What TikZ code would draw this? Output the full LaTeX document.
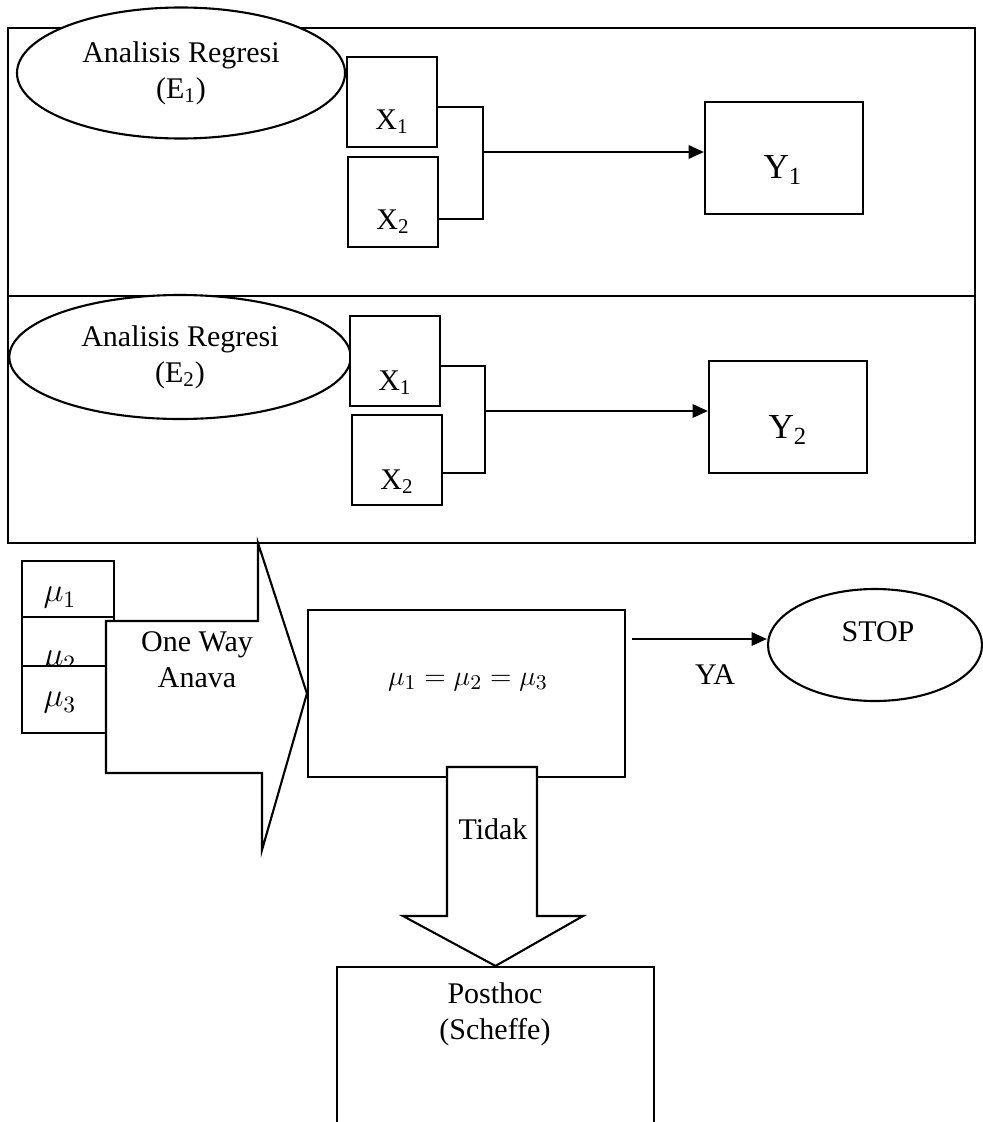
\documentclass[tikz,border=0pt]{standalone}
\usepackage{fontspec}
\setmainfont{Liberation Serif}
\usetikzlibrary{arrows.meta,shapes.geometric}
\tikzset{
  box/.style={draw, line width=0.9pt, fill=white, inner sep=0pt},
  oval/.style={draw, ellipse, line width=0.9pt, fill=white, inner sep=0pt, align=center},
  txt/.style={align=center, inner sep=1pt},
  link/.style={line width=0.9pt},
  arr/.style={line width=0.9pt, -{Triangle[length=2.3mm,width=2mm]}},
  fat/.style={draw, line width=0.9pt, fill=white},
}
\begin{document}
\begin{tikzpicture}[x=0.15mm, y=-0.15mm, font=\fontsize{12.8}{15.3}\selectfont]
  \useasboundingbox (0,0) rectangle (983,1122);
  \clip (0,0) rectangle (983,1122);
  % frame with the two regressions
  \draw[link] (8,28) rectangle (975,543);
  \draw[link] (8,296) -- (975,296);
  \node[oval, minimum width=49.2mm, minimum height=19.65mm] (e1) at (181,73) {Analisis Regresi\\(E\textsubscript{1})};
  \node[oval, minimum width=51.2mm, minimum height=18.6mm] (e2) at (180,357) {Analisis Regresi\\(E\textsubscript{2})};
  \foreach \n/\i/\x/\y/\ty in {x1a/1/392/102/122, x2a/2/393/202/222,
                               x1b/1/395/361/383, x2b/2/397/460/482} {
    \node[box, minimum width=13.6mm, minimum height=13.4mm] (\n) at (\x,\y) {};
    \node[txt] (\n-t) at (\x,\ty) {X\textsubscript{\i}};
  }
  \coordinate (j1) at (483,152);
  \coordinate (j2) at (485,411);
  \draw[link] ([yshift=-0.75mm]x1a.east) -| (j1) |- ([yshift=-2.55mm]x2a.east);
  \draw[link] ([yshift=-0.75mm]x1b.east) -| (j2) |- ([yshift=-1.95mm]x2b.east);
  \node[box, minimum width=23.7mm, minimum height=16.8mm] (y1) at (784,158) {};
  \node[txt, font=\fontsize{15}{18}\selectfont] (y1-t) at (783,170) {Y\textsubscript{1}};
  \node[box, minimum width=23.7mm, minimum height=16.8mm] (y2) at (788,417) {};
  \node[txt, font=\fontsize{15}{18}\selectfont] (y2-t) at (788,430) {Y\textsubscript{2}};
  \draw[arr] (j1) -- (j1 -| y1.west);
  \draw[arr] (j2) -- (j2 -| y2.west);
  % means and anova
  \foreach \i/\y/\h/\ty in {1/589/8.4/598, 2/641.5/7.35/662, 3/699.5/10.05/703} {
    \node[box, minimum width=13.8mm, minimum height=\h mm] (m\i) at (68,\y) {};
    \node[txt, font=\fontsize{14.5}{17}\selectfont] (m\i-t) at (60,\ty) {$\mu_\i$};
  }
  \node[box, minimum width=47.55mm, minimum height=25.05mm] (eq) at (466.5,693.5) {};
  \draw[fat] (106,621) -- (258,621) -- (258,543) -- (eq.west) -- (262,850) -- (262,773) -- (106,773) -- cycle;
  \node[txt] (anava) at (197,660) {One Way\\Anava};
  \node[txt] (eq-t) at (468,682) {$\mu_1=\mu_2=\mu_3$};
  % decision
  \node[oval, minimum width=32.1mm, minimum height=16.8mm] (stop) at (875,645) {};
  \node[txt] (stop-t) at (878,632) {STOP};
  \coordinate (ya) at (632,639);
  \draw[arr] (ya) -- (ya -| stop.west);
  \node[txt] (ya-t) at (715,675) {YA};
  \node[box, minimum width=47.55mm, minimum height=30mm] (post) at (495.5,1067) {};
  \draw[fat] (447,767) -- (537,767) -- (537,916) -- (583,916) -- (post.north) -- (403,916) -- (447,916) -- cycle;
  \node[txt] (tidak) at (493,829) {Tidak};
  \node[txt] (post-t) at (495,1014) {Posthoc\\(Scheffe)};
\end{tikzpicture}
\end{document}
